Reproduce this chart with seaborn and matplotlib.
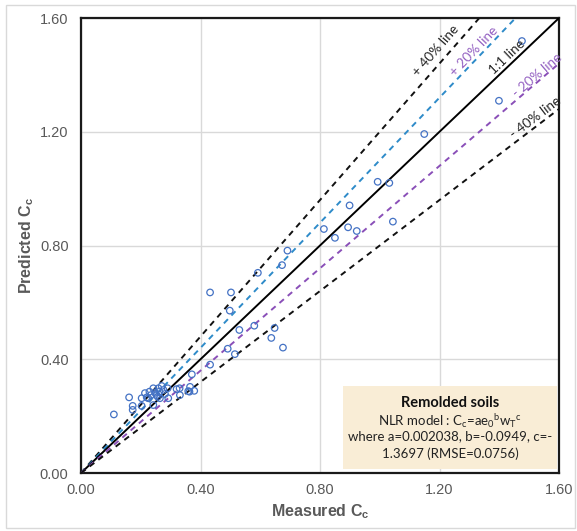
import numpy as np
import pandas as pd
import matplotlib
matplotlib.use("Agg")
import matplotlib.pyplot as plt
from matplotlib.patches import Rectangle
import seaborn as sns

# Measured vs predicted compression index (remolded soils)
measured = [1.476, 1.399, 1.149, 0.993, 1.032, 0.899, 0.813, 0.850, 0.894, 0.923,
            1.044, 0.691, 0.673, 0.592, 0.432, 0.502, 0.498, 0.530, 0.580, 0.648,
            0.637, 0.676, 0.491, 0.515, 0.432, 0.371, 0.379, 0.363, 0.331, 0.330,
            0.320, 0.290, 0.281, 0.270, 0.262, 0.257, 0.248, 0.242, 0.234, 0.229,
            0.220, 0.214, 0.203, 0.161, 0.173, 0.173, 0.110, 0.203, 0.259, 0.276,
            0.253, 0.225, 0.264, 0.292, 0.359, 0.365, 0.242]
predicted = [1.519, 1.309, 1.192, 1.024, 1.020, 0.941, 0.858, 0.827, 0.864, 0.851,
             0.884, 0.782, 0.731, 0.704, 0.635, 0.635, 0.571, 0.503, 0.518, 0.510,
             0.475, 0.441, 0.437, 0.418, 0.381, 0.347, 0.289, 0.286, 0.274, 0.298,
             0.295, 0.298, 0.278, 0.306, 0.286, 0.268, 0.282, 0.298, 0.274, 0.286,
             0.266, 0.281, 0.263, 0.266, 0.236, 0.222, 0.206, 0.236, 0.298, 0.292,
             0.274, 0.263, 0.263, 0.263, 0.288, 0.303, 0.239]

# Reference lines through the origin
ref_names = ["+ 40% line", "+ 20% line", "1:1 line", "- 20% line", "- 40% line"]
ref_slopes = [1.2, 1.1, 1.0, 0.9, 0.8]
ref_colors = ["#111111", "#2E8BC9", "#000000", "#8A4FB8", "#111111"]
ref_text_colors = ["#262626", "#9461C2", "#262626", "#9461C2", "#262626"]
ref_dashed = [True, True, False, True, True]
ref_label_x = [1.188, 1.316, 1.428, 1.528, 1.523]
ref_label_y = [1.487, 1.484, 1.464, 1.397, 1.250]
line_x = [0.0, 1.6]

ticks = [0.0, 0.4, 0.8, 1.2, 1.6]
tick_labels = ["0.00", "0.40", "0.80", "1.20", "1.60"]

sns.set_theme(style="white")
plt.rcParams["font.family"] = ["Liberation Sans", "DejaVu Sans"]
plt.rcParams["mathtext.default"] = "regular"

fig = plt.figure(figsize=(5.77, 5.31), dpi=100)
ax = fig.add_axes([0.1404, 0.1092, 0.8284, 0.8569])

# chart border
fig.patches.append(Rectangle((6 / 577, 3 / 531), 569 / 577, 523 / 531,
                             transform=fig.transFigure, fill=False,
                             edgecolor="#D9D9D9", linewidth=1.0))

ax.set_xlim(0, 1.6)
ax.set_ylim(0, 1.6)
ax.set_xticks(ticks)
ax.set_yticks(ticks)
ax.set_xticklabels(tick_labels)
ax.set_yticklabels(tick_labels)
ax.grid(True, color="#D9D9D9", linewidth=1.0)
ax.set_axisbelow(True)
for sp in ax.spines.values():
    sp.set_color("#1a1a1a")
    sp.set_linewidth(1.6)
ax.tick_params(axis="y", length=0, labelsize=10.5, labelcolor="#595959", pad=9)
ax.tick_params(axis="x", length=0, labelsize=10.5, labelcolor="#595959", pad=7)

for name, slope, col, dashed in zip(ref_names, ref_slopes, ref_colors, ref_dashed):
    df = pd.DataFrame({"x": line_x, "y": [slope * v for v in line_x]})
    sns.lineplot(data=df, x="x", y="y", ax=ax, color=col, linewidth=1.4,
                 linestyle=(0, (3.0, 2.6)) if dashed else "-", zorder=3)

pts = pd.DataFrame({"Measured": measured, "Predicted": predicted})
sns.scatterplot(data=pts, x="Measured", y="Predicted", ax=ax, marker="o",
                s=22, facecolor="none", edgecolor="#4472C4", linewidth=0.9, zorder=4)

for name, slope, tcol, lx, ly in zip(ref_names, ref_slopes, ref_text_colors,
                                     ref_label_x, ref_label_y):
    ax.text(lx, ly, name, rotation=np.degrees(np.arctan(slope)),
            transform_rotates_text=True, rotation_mode="anchor",
            ha="center", va="center", fontsize=9.8, color=tcol,
            family=["Lato", "DejaVu Sans"], zorder=5)

ax.set_xlabel("Measured C$_c$", fontsize=11.5, color="#595959",
              fontweight="bold", labelpad=4)
ax.set_ylabel("Predicted C$_c$", fontsize=11.5, color="#595959",
              fontweight="bold", labelpad=3)

# model annotation box
ax.add_patch(Rectangle((0.548, 0.009), 0.448, 0.182, transform=ax.transAxes,
                       facecolor="#F9EDD6", edgecolor="none", zorder=6))
box_font = ["Lato", "DejaVu Sans"]
ax.text(0.772, 0.153, "Remolded soils", transform=ax.transAxes, ha="center",
        va="center", fontsize=10.5, fontweight="bold", color="#111111",
        family=box_font, zorder=7)
ax.text(0.772, 0.115, "NLR model : C$_c$=ae$_0$$^b$w$_T$$^c$", transform=ax.transAxes,
        ha="center", va="center", fontsize=9.5, color="#222222", family=box_font, zorder=7)
ax.text(0.772, 0.080, "where a=0.002038, b=-0.0949, c=-", transform=ax.transAxes,
        ha="center", va="center", fontsize=9.5, color="#222222", family=box_font, zorder=7)
ax.text(0.772, 0.043, "1.3697 (RMSE=0.0756)", transform=ax.transAxes,
        ha="center", va="center", fontsize=9.5, color="#222222", family=box_font, zorder=7)

fig.savefig("out.png", dpi=100)
